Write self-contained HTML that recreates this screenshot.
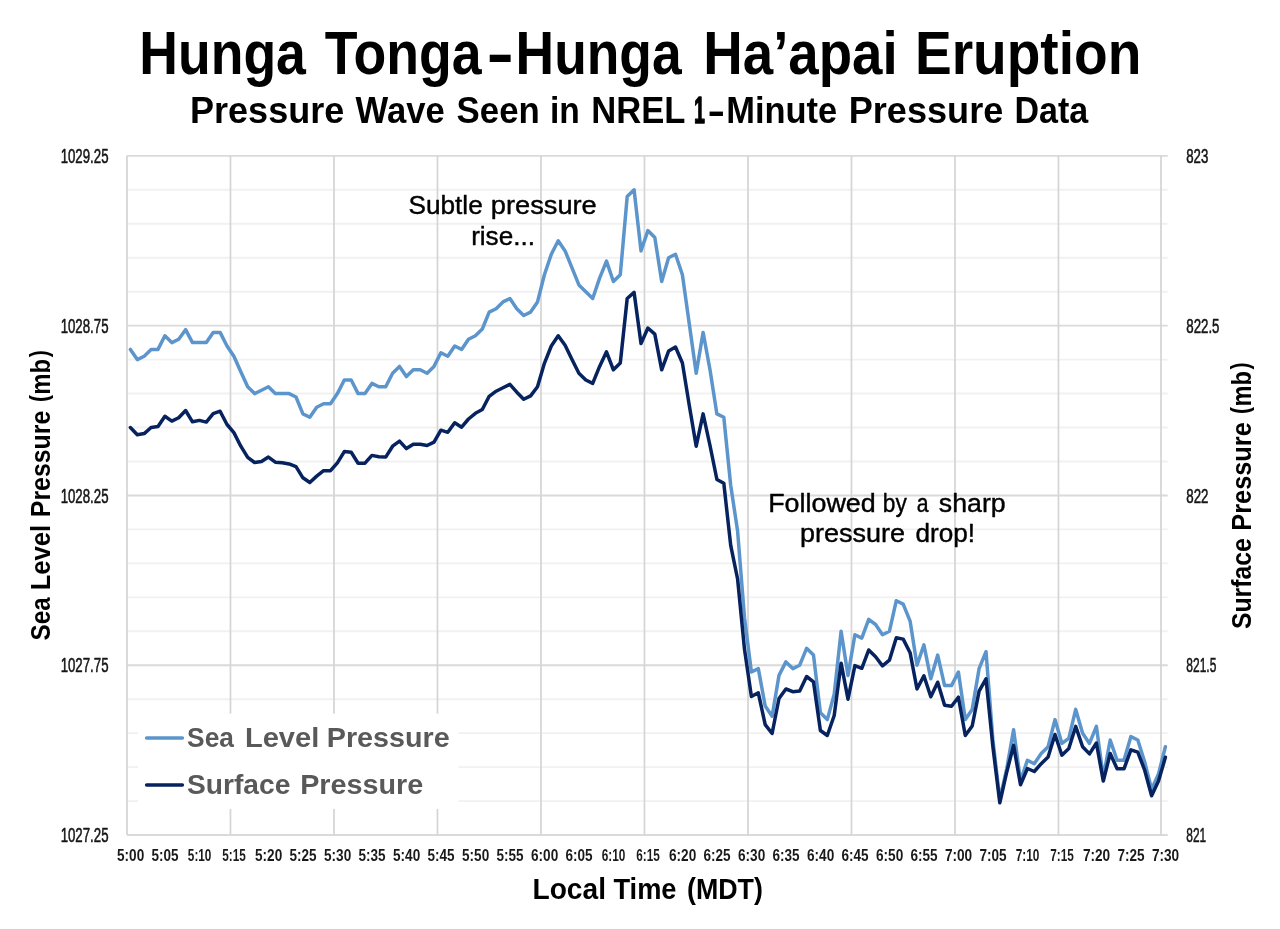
<!DOCTYPE html>
<html lang="en"><head><meta charset="utf-8"><title>Hunga Tonga-Hunga Ha’apai Eruption</title>
<style>html,body{margin:0;padding:0;background:#fff}svg{display:block}text{font-family:"Liberation Sans", sans-serif}</style>
</head><body>
<svg width="1280" height="929" viewBox="0 0 1280 929">
<rect width="1280" height="929" fill="#ffffff"/>
<g fill="none">
<line x1="126.97" x2="1167.70" y1="189.81" y2="189.81" stroke="#f1f1f1" stroke-width="1.9"/>
<line x1="126.97" x2="1167.70" y1="223.77" y2="223.77" stroke="#f1f1f1" stroke-width="1.9"/>
<line x1="126.97" x2="1167.70" y1="257.73" y2="257.73" stroke="#f1f1f1" stroke-width="1.9"/>
<line x1="126.97" x2="1167.70" y1="291.69" y2="291.69" stroke="#f1f1f1" stroke-width="1.9"/>
<line x1="126.97" x2="1167.70" y1="359.61" y2="359.61" stroke="#f1f1f1" stroke-width="1.9"/>
<line x1="126.97" x2="1167.70" y1="393.57" y2="393.57" stroke="#f1f1f1" stroke-width="1.9"/>
<line x1="126.97" x2="1167.70" y1="427.53" y2="427.53" stroke="#f1f1f1" stroke-width="1.9"/>
<line x1="126.97" x2="1167.70" y1="461.49" y2="461.49" stroke="#f1f1f1" stroke-width="1.9"/>
<line x1="126.97" x2="1167.70" y1="529.41" y2="529.41" stroke="#f1f1f1" stroke-width="1.9"/>
<line x1="126.97" x2="1167.70" y1="563.37" y2="563.37" stroke="#f1f1f1" stroke-width="1.9"/>
<line x1="126.97" x2="1167.70" y1="597.33" y2="597.33" stroke="#f1f1f1" stroke-width="1.9"/>
<line x1="126.97" x2="1167.70" y1="631.29" y2="631.29" stroke="#f1f1f1" stroke-width="1.9"/>
<line x1="126.97" x2="1167.70" y1="699.21" y2="699.21" stroke="#f1f1f1" stroke-width="1.9"/>
<line x1="126.97" x2="1167.70" y1="733.17" y2="733.17" stroke="#f1f1f1" stroke-width="1.9"/>
<line x1="126.97" x2="1167.70" y1="767.13" y2="767.13" stroke="#f1f1f1" stroke-width="1.9"/>
<line x1="126.97" x2="1167.70" y1="801.09" y2="801.09" stroke="#f1f1f1" stroke-width="1.9"/>
<line x1="126.97" x2="1167.70" y1="155.85" y2="155.85" stroke="#dadada" stroke-width="1.9"/>
<line x1="126.97" x2="1167.70" y1="325.65" y2="325.65" stroke="#dadada" stroke-width="1.9"/>
<line x1="126.97" x2="1167.70" y1="495.45" y2="495.45" stroke="#dadada" stroke-width="1.9"/>
<line x1="126.97" x2="1167.70" y1="665.25" y2="665.25" stroke="#dadada" stroke-width="1.9"/>
<line x1="126.97" x2="1167.70" y1="835.05" y2="835.05" stroke="#dadada" stroke-width="1.9"/>
<line x1="126.97" x2="126.97" y1="155.85" y2="835.05" stroke="#d5d5d5" stroke-width="1.75"/>
<line x1="230.47" x2="230.47" y1="155.85" y2="835.05" stroke="#d5d5d5" stroke-width="1.75"/>
<line x1="333.97" x2="333.97" y1="155.85" y2="835.05" stroke="#d5d5d5" stroke-width="1.75"/>
<line x1="437.47" x2="437.47" y1="155.85" y2="835.05" stroke="#d5d5d5" stroke-width="1.75"/>
<line x1="540.97" x2="540.97" y1="155.85" y2="835.05" stroke="#d5d5d5" stroke-width="1.75"/>
<line x1="644.47" x2="644.47" y1="155.85" y2="835.05" stroke="#d5d5d5" stroke-width="1.75"/>
<line x1="747.97" x2="747.97" y1="155.85" y2="835.05" stroke="#d5d5d5" stroke-width="1.75"/>
<line x1="851.47" x2="851.47" y1="155.85" y2="835.05" stroke="#d5d5d5" stroke-width="1.75"/>
<line x1="954.97" x2="954.97" y1="155.85" y2="835.05" stroke="#d5d5d5" stroke-width="1.75"/>
<line x1="1058.47" x2="1058.47" y1="155.85" y2="835.05" stroke="#d5d5d5" stroke-width="1.75"/>
<line x1="1161.00" x2="1161.00" y1="155.85" y2="835.05" stroke="#d5d5d5" stroke-width="1.75"/>
</g>
<rect x="138" y="713.6" width="320.5" height="95.3" fill="#ffffff"/>
<polyline points="130.4,349.4 137.3,359.6 144.2,356.2 151.1,349.4 158.0,349.4 164.9,335.8 171.8,342.6 178.7,339.2 185.6,329.7 192.5,342.6 199.4,342.6 206.3,342.6 213.2,332.4 220.1,332.4 227.0,346.0 233.9,356.2 240.8,371.8 247.7,386.8 254.6,393.6 261.5,390.2 268.4,386.8 275.3,393.6 282.2,393.6 289.1,393.6 296.0,397.0 302.9,413.9 309.8,417.3 316.7,407.2 323.6,403.8 330.5,403.8 337.4,393.6 344.3,380.0 351.2,380.0 358.1,393.6 365.0,393.6 371.9,383.4 378.8,386.8 385.7,386.8 392.6,373.2 399.5,366.4 406.4,376.6 413.3,369.8 420.2,369.8 427.1,373.2 434.0,366.4 440.9,352.8 447.8,356.2 454.7,346.0 461.6,349.4 468.5,339.2 475.4,335.8 482.3,329.0 489.2,312.1 496.1,308.7 503.0,301.9 509.9,298.5 516.8,308.7 523.7,315.5 530.6,312.1 537.5,301.9 544.4,274.7 551.3,254.3 558.2,240.8 565.1,250.9 572.0,267.9 578.9,284.9 585.8,291.7 592.7,298.5 599.6,278.1 606.5,261.1 613.4,281.5 620.3,274.7 627.2,196.6 634.1,189.8 641.0,250.9 647.9,230.6 654.8,237.4 661.7,281.5 668.6,257.7 675.5,254.3 682.4,274.7 689.3,324.0 696.2,373.2 703.1,332.4 710.0,369.8 716.9,413.9 723.8,417.3 730.7,485.3 737.6,531.1 744.5,617.7 751.4,672.0 758.3,668.6 765.2,706.0 772.1,716.2 779.0,675.4 785.9,661.9 792.8,668.6 799.7,665.2 806.6,648.3 813.5,655.1 820.4,712.8 827.3,719.6 834.2,694.1 841.1,631.3 848.0,675.4 854.9,634.7 861.8,638.1 868.7,619.4 875.6,624.5 882.5,634.7 889.4,631.3 896.3,600.7 903.2,604.1 910.1,621.1 917.0,665.2 923.9,644.9 930.8,678.8 937.7,655.1 944.6,685.6 951.5,685.6 958.4,672.0 965.3,719.6 972.2,709.4 979.1,668.6 986.0,651.7 992.9,740.0 999.8,799.4 1006.7,768.8 1013.6,729.8 1020.5,780.7 1027.4,760.3 1034.3,763.7 1041.2,753.5 1048.1,746.8 1055.0,719.6 1061.9,743.4 1068.8,738.3 1075.7,709.4 1082.6,733.2 1089.5,743.4 1096.4,726.4 1103.3,777.3 1110.2,740.0 1117.1,760.3 1124.0,760.3 1130.9,736.6 1137.8,740.0 1144.7,762.0 1151.6,789.2 1158.5,773.9 1165.4,746.8" fill="none" stroke="#5c95cc" stroke-width="3.5" stroke-linejoin="round" stroke-linecap="round"/>
<polyline points="130.4,427.5 137.3,434.7 144.2,433.6 151.1,427.5 158.0,426.5 164.9,416.3 171.8,421.1 178.7,417.7 185.6,410.5 192.5,421.8 199.4,420.4 206.3,422.1 213.2,413.6 220.1,411.2 227.0,424.5 233.9,432.6 240.8,446.2 247.7,457.4 254.6,462.5 261.5,461.5 268.4,457.1 275.3,462.2 282.2,462.8 289.1,463.9 296.0,466.6 302.9,477.8 309.8,482.5 316.7,476.1 323.6,470.7 330.5,470.7 337.4,462.8 344.3,451.6 351.2,452.3 358.1,463.2 365.0,463.2 371.9,455.4 378.8,456.7 385.7,457.1 392.6,446.2 399.5,441.1 406.4,448.6 413.3,444.2 420.2,444.2 427.1,445.5 434.0,442.1 440.9,430.2 447.8,432.3 454.7,422.8 461.6,427.2 468.5,419.0 475.4,413.3 482.3,409.5 489.2,396.3 496.1,391.2 503.0,387.8 509.9,384.4 516.8,392.2 523.7,399.3 530.6,395.9 537.5,386.8 544.4,363.3 551.3,346.0 558.2,335.8 565.1,345.3 572.0,359.6 578.9,373.2 585.8,380.0 592.7,383.4 599.6,366.4 606.5,351.8 613.4,369.8 620.3,363.0 627.2,298.5 634.1,292.4 641.0,343.6 647.9,328.0 654.8,334.1 661.7,369.8 668.6,351.1 675.5,347.0 682.4,363.0 689.3,405.5 696.2,446.2 703.1,413.9 710.0,445.5 716.9,479.5 723.8,483.2 730.7,545.4 737.6,579.0 744.5,649.3 751.4,696.5 758.3,692.8 765.2,724.7 772.1,733.5 779.0,698.5 785.9,689.0 792.8,691.7 799.7,691.1 806.6,676.5 813.5,681.9 820.4,730.5 827.3,735.5 834.2,715.5 841.1,663.2 848.0,699.2 854.9,665.6 861.8,668.3 868.7,650.0 875.6,656.8 882.5,665.9 889.4,660.2 896.3,637.7 903.2,639.1 910.1,652.7 917.0,689.0 923.9,675.8 930.8,696.8 937.7,682.2 944.6,705.3 951.5,706.3 958.4,697.2 965.3,735.5 972.2,726.0 979.1,691.1 986.0,678.8 992.9,746.8 999.8,802.8 1006.7,772.2 1013.6,745.4 1020.5,784.8 1027.4,768.5 1034.3,771.5 1041.2,763.7 1048.1,756.9 1055.0,734.5 1061.9,755.2 1068.8,748.5 1075.7,726.4 1082.6,746.8 1089.5,753.9 1096.4,743.0 1103.3,781.1 1110.2,753.5 1117.1,768.8 1124.0,768.8 1130.9,749.8 1137.8,752.2 1144.7,770.2 1151.6,795.7 1158.5,781.1 1165.4,757.3" fill="none" stroke="#06225f" stroke-width="3.5" stroke-linejoin="round" stroke-linecap="round"/>
<text font-size="60.8" fill="#000" font-weight="bold"><tspan x="139.26" y="73.70" textLength="166.68" lengthAdjust="spacingAndGlyphs">Hunga</tspan> <tspan x="324.71" y="73.70" textLength="156.89" lengthAdjust="spacingAndGlyphs">Tonga</tspan><tspan x="486.48" y="73.70" textLength="27.43" lengthAdjust="spacingAndGlyphs">-</tspan><tspan x="515.57" y="73.70" textLength="166.12" lengthAdjust="spacingAndGlyphs">Hunga</tspan> <tspan x="703.36" y="73.70" textLength="194.28" lengthAdjust="spacingAndGlyphs">Ha’apai</tspan> <tspan x="914.92" y="73.70" textLength="226.37" lengthAdjust="spacingAndGlyphs">Eruption</tspan></text>
<text font-size="36.2" fill="#000" font-weight="bold"><tspan x="189.99" y="122.80" textLength="154.37" lengthAdjust="spacingAndGlyphs">Pressure</tspan> <tspan x="355.49" y="122.80" textLength="89.18" lengthAdjust="spacingAndGlyphs">Wave</tspan> <tspan x="456.56" y="122.80" textLength="83.22" lengthAdjust="spacingAndGlyphs">Seen</tspan> <tspan x="549.95" y="122.80" textLength="29.84" lengthAdjust="spacingAndGlyphs">in</tspan> <tspan x="591.22" y="122.80" textLength="93.64" lengthAdjust="spacingAndGlyphs">NREL</tspan> <tspan x="694.05" y="122.80" stroke="#000" stroke-width="1.3" stroke-linejoin="round" textLength="10.91" lengthAdjust="spacingAndGlyphs">1</tspan><tspan x="707.43" y="122.80" textLength="17.59" lengthAdjust="spacingAndGlyphs">-</tspan><tspan x="726.21" y="122.80" textLength="110.97" lengthAdjust="spacingAndGlyphs">Minute</tspan> <tspan x="848.68" y="122.80" textLength="154.67" lengthAdjust="spacingAndGlyphs">Pressure</tspan> <tspan x="1014.44" y="122.80" textLength="73.73" lengthAdjust="spacingAndGlyphs">Data</tspan></text>
<text font-size="27.0" fill="#000" font-weight="bold" transform="translate(49.50,0) rotate(-90)"><tspan x="-640.45" y="0.00" textLength="43.09" lengthAdjust="spacingAndGlyphs">Sea</tspan> <tspan x="-590.32" y="0.00" textLength="65.52" lengthAdjust="spacingAndGlyphs">Level</tspan> <tspan x="-517.16" y="0.00" textLength="106.43" lengthAdjust="spacingAndGlyphs">Pressure</tspan> <tspan x="-401.95" y="-1.80" font-size="25.3" textLength="7.05" lengthAdjust="spacingAndGlyphs">(</tspan><tspan x="-394.84" y="0.00" textLength="35.82" lengthAdjust="spacingAndGlyphs">mb</tspan><tspan x="-357.28" y="-1.80" font-size="25.3" textLength="7.16" lengthAdjust="spacingAndGlyphs">)</tspan></text>
<text font-size="27.0" fill="#000" font-weight="bold" transform="translate(1251.00,0) rotate(-90)"><tspan x="-629.04" y="0.00" textLength="90.89" lengthAdjust="spacingAndGlyphs">Surface</tspan> <tspan x="-530.80" y="0.00" textLength="108.68" lengthAdjust="spacingAndGlyphs">Pressure</tspan> <tspan x="-414.05" y="-1.80" font-size="25.3" textLength="7.05" lengthAdjust="spacingAndGlyphs">(</tspan><tspan x="-406.57" y="0.00" textLength="35.45" lengthAdjust="spacingAndGlyphs">mb</tspan><tspan x="-369.38" y="-1.80" font-size="25.3" textLength="7.04" lengthAdjust="spacingAndGlyphs">)</tspan></text>
<text font-size="28.6" fill="#000" font-weight="bold"><tspan x="532.52" y="898.90" textLength="73.46" lengthAdjust="spacingAndGlyphs">Local</tspan> <tspan x="613.43" y="898.90" textLength="63.11" lengthAdjust="spacingAndGlyphs">Time</tspan> <tspan x="686.97" y="898.90" textLength="75.96" lengthAdjust="spacingAndGlyphs">(MDT)</tspan></text>
<text font-size="25.2" fill="#000" stroke="#000" stroke-width="0.4" stroke-linejoin="round"><tspan x="408.49" y="213.75" textLength="74.22" lengthAdjust="spacingAndGlyphs">Subtle</tspan> <tspan x="490.82" y="213.75" textLength="105.92" lengthAdjust="spacingAndGlyphs">pressure</tspan></text>
<text font-size="25.2" fill="#000" stroke="#000" stroke-width="0.4" stroke-linejoin="round"><tspan x="471.15" y="245.40" textLength="63.77" lengthAdjust="spacingAndGlyphs">rise...</tspan></text>
<text font-size="25.2" fill="#000" stroke="#000" stroke-width="0.4" stroke-linejoin="round"><tspan x="768.23" y="511.50" textLength="107.47" lengthAdjust="spacingAndGlyphs">Followed</tspan> <tspan x="882.80" y="511.50" textLength="23.99" lengthAdjust="spacingAndGlyphs">by</tspan> <tspan x="916.86" y="511.50" textLength="11.78" lengthAdjust="spacingAndGlyphs">a</tspan> <tspan x="938.82" y="511.50" textLength="66.83" lengthAdjust="spacingAndGlyphs">sharp</tspan></text>
<text font-size="25.2" fill="#000" stroke="#000" stroke-width="0.4" stroke-linejoin="round"><tspan x="800.04" y="541.70" textLength="105.00" lengthAdjust="spacingAndGlyphs">pressure</tspan> <tspan x="915.58" y="541.70" textLength="59.55" lengthAdjust="spacingAndGlyphs">drop!</tspan></text>
<text font-size="27.2" fill="#595959" font-weight="bold"><tspan x="187.11" y="747.20" textLength="46.81" lengthAdjust="spacingAndGlyphs">Sea</tspan> <tspan x="244.95" y="747.20" textLength="74.29" lengthAdjust="spacingAndGlyphs">Level</tspan> <tspan x="326.78" y="747.20" textLength="122.92" lengthAdjust="spacingAndGlyphs">Pressure</tspan></text>
<text font-size="27.2" fill="#595959" font-weight="bold"><tspan x="187.06" y="794.20" textLength="103.31" lengthAdjust="spacingAndGlyphs">Surface</tspan> <tspan x="300.18" y="794.20" textLength="123.02" lengthAdjust="spacingAndGlyphs">Pressure</tspan></text>
<text font-size="19.6" fill="#151515" stroke="#151515" stroke-width="0.55" stroke-linejoin="round"><tspan x="60.65" y="162.95" textLength="47.86" lengthAdjust="spacingAndGlyphs">1029.25</tspan></text>
<text font-size="19.6" fill="#151515" stroke="#151515" stroke-width="0.55" stroke-linejoin="round"><tspan x="60.65" y="332.75" textLength="47.86" lengthAdjust="spacingAndGlyphs">1028.75</tspan></text>
<text font-size="19.6" fill="#151515" stroke="#151515" stroke-width="0.55" stroke-linejoin="round"><tspan x="60.65" y="502.55" textLength="47.86" lengthAdjust="spacingAndGlyphs">1028.25</tspan></text>
<text font-size="19.6" fill="#151515" stroke="#151515" stroke-width="0.55" stroke-linejoin="round"><tspan x="60.65" y="672.35" textLength="47.86" lengthAdjust="spacingAndGlyphs">1027.75</tspan></text>
<text font-size="19.6" fill="#151515" stroke="#151515" stroke-width="0.55" stroke-linejoin="round"><tspan x="60.65" y="842.15" textLength="47.86" lengthAdjust="spacingAndGlyphs">1027.25</tspan></text>
<text font-size="19.6" fill="#151515" stroke="#151515" stroke-width="0.55" stroke-linejoin="round"><tspan x="1186.27" y="162.95" textLength="22.07" lengthAdjust="spacingAndGlyphs">823</tspan></text>
<text font-size="19.6" fill="#151515" stroke="#151515" stroke-width="0.55" stroke-linejoin="round"><tspan x="1186.26" y="332.75" textLength="33.26" lengthAdjust="spacingAndGlyphs">822.5</tspan></text>
<text font-size="19.6" fill="#151515" stroke="#151515" stroke-width="0.55" stroke-linejoin="round"><tspan x="1186.27" y="502.55" textLength="22.15" lengthAdjust="spacingAndGlyphs">822</tspan></text>
<text font-size="19.6" fill="#151515" stroke="#151515" stroke-width="0.55" stroke-linejoin="round"><tspan x="1186.30" y="672.35" textLength="30.04" lengthAdjust="spacingAndGlyphs">821.5</tspan></text>
<text font-size="19.6" fill="#151515" stroke="#151515" stroke-width="0.55" stroke-linejoin="round"><tspan x="1186.31" y="842.15" textLength="19.85" lengthAdjust="spacingAndGlyphs">821</tspan></text>
<text font-size="15.6" fill="#1a1a1a" font-weight="bold"><tspan x="117.03" y="860.50" textLength="27.20" lengthAdjust="spacingAndGlyphs">5:00</tspan></text>
<text font-size="15.6" fill="#1a1a1a" font-weight="bold"><tspan x="151.53" y="860.50" textLength="27.03" lengthAdjust="spacingAndGlyphs">5:05</tspan></text>
<text font-size="15.6" fill="#1a1a1a" font-weight="bold"><tspan x="187.84" y="860.50" textLength="23.57" lengthAdjust="spacingAndGlyphs">5:10</tspan></text>
<text font-size="15.6" fill="#1a1a1a" font-weight="bold"><tspan x="222.34" y="860.50" textLength="23.42" lengthAdjust="spacingAndGlyphs">5:15</tspan></text>
<text font-size="15.6" fill="#1a1a1a" font-weight="bold"><tspan x="255.03" y="860.50" textLength="27.20" lengthAdjust="spacingAndGlyphs">5:20</tspan></text>
<text font-size="15.6" fill="#1a1a1a" font-weight="bold"><tspan x="289.53" y="860.50" textLength="27.03" lengthAdjust="spacingAndGlyphs">5:25</tspan></text>
<text font-size="15.6" fill="#1a1a1a" font-weight="bold"><tspan x="324.03" y="860.50" textLength="27.20" lengthAdjust="spacingAndGlyphs">5:30</tspan></text>
<text font-size="15.6" fill="#1a1a1a" font-weight="bold"><tspan x="358.53" y="860.50" textLength="27.03" lengthAdjust="spacingAndGlyphs">5:35</tspan></text>
<text font-size="15.6" fill="#1a1a1a" font-weight="bold"><tspan x="393.03" y="860.50" textLength="27.20" lengthAdjust="spacingAndGlyphs">5:40</tspan></text>
<text font-size="15.6" fill="#1a1a1a" font-weight="bold"><tspan x="427.53" y="860.50" textLength="27.03" lengthAdjust="spacingAndGlyphs">5:45</tspan></text>
<text font-size="15.6" fill="#1a1a1a" font-weight="bold"><tspan x="462.03" y="860.50" textLength="27.20" lengthAdjust="spacingAndGlyphs">5:50</tspan></text>
<text font-size="15.6" fill="#1a1a1a" font-weight="bold"><tspan x="496.53" y="860.50" textLength="27.03" lengthAdjust="spacingAndGlyphs">5:55</tspan></text>
<text font-size="15.6" fill="#1a1a1a" font-weight="bold"><tspan x="530.98" y="860.50" textLength="27.26" lengthAdjust="spacingAndGlyphs">6:00</tspan></text>
<text font-size="15.6" fill="#1a1a1a" font-weight="bold"><tspan x="565.48" y="860.50" textLength="27.08" lengthAdjust="spacingAndGlyphs">6:05</tspan></text>
<text font-size="15.6" fill="#1a1a1a" font-weight="bold"><tspan x="601.79" y="860.50" textLength="23.62" lengthAdjust="spacingAndGlyphs">6:10</tspan></text>
<text font-size="15.6" fill="#1a1a1a" font-weight="bold"><tspan x="636.29" y="860.50" textLength="23.46" lengthAdjust="spacingAndGlyphs">6:15</tspan></text>
<text font-size="15.6" fill="#1a1a1a" font-weight="bold"><tspan x="668.98" y="860.50" textLength="27.26" lengthAdjust="spacingAndGlyphs">6:20</tspan></text>
<text font-size="15.6" fill="#1a1a1a" font-weight="bold"><tspan x="703.48" y="860.50" textLength="27.08" lengthAdjust="spacingAndGlyphs">6:25</tspan></text>
<text font-size="15.6" fill="#1a1a1a" font-weight="bold"><tspan x="737.98" y="860.50" textLength="27.26" lengthAdjust="spacingAndGlyphs">6:30</tspan></text>
<text font-size="15.6" fill="#1a1a1a" font-weight="bold"><tspan x="772.48" y="860.50" textLength="27.08" lengthAdjust="spacingAndGlyphs">6:35</tspan></text>
<text font-size="15.6" fill="#1a1a1a" font-weight="bold"><tspan x="806.98" y="860.50" textLength="27.26" lengthAdjust="spacingAndGlyphs">6:40</tspan></text>
<text font-size="15.6" fill="#1a1a1a" font-weight="bold"><tspan x="841.48" y="860.50" textLength="27.08" lengthAdjust="spacingAndGlyphs">6:45</tspan></text>
<text font-size="15.6" fill="#1a1a1a" font-weight="bold"><tspan x="875.98" y="860.50" textLength="27.26" lengthAdjust="spacingAndGlyphs">6:50</tspan></text>
<text font-size="15.6" fill="#1a1a1a" font-weight="bold"><tspan x="910.48" y="860.50" textLength="27.08" lengthAdjust="spacingAndGlyphs">6:55</tspan></text>
<text font-size="15.6" fill="#1a1a1a" font-weight="bold"><tspan x="944.89" y="860.50" textLength="27.35" lengthAdjust="spacingAndGlyphs">7:00</tspan></text>
<text font-size="15.6" fill="#1a1a1a" font-weight="bold"><tspan x="979.39" y="860.50" textLength="27.17" lengthAdjust="spacingAndGlyphs">7:05</tspan></text>
<text font-size="15.6" fill="#1a1a1a" font-weight="bold"><tspan x="1015.72" y="860.50" textLength="23.69" lengthAdjust="spacingAndGlyphs">7:10</tspan></text>
<text font-size="15.6" fill="#1a1a1a" font-weight="bold"><tspan x="1050.22" y="860.50" textLength="23.54" lengthAdjust="spacingAndGlyphs">7:15</tspan></text>
<text font-size="15.6" fill="#1a1a1a" font-weight="bold"><tspan x="1082.89" y="860.50" textLength="27.35" lengthAdjust="spacingAndGlyphs">7:20</tspan></text>
<text font-size="15.6" fill="#1a1a1a" font-weight="bold"><tspan x="1117.39" y="860.50" textLength="27.17" lengthAdjust="spacingAndGlyphs">7:25</tspan></text>
<text font-size="15.6" fill="#1a1a1a" font-weight="bold"><tspan x="1151.89" y="860.50" textLength="27.35" lengthAdjust="spacingAndGlyphs">7:30</tspan></text>
<line x1="146.6" x2="182.4" y1="738.0" y2="738.0" stroke="#5c95cc" stroke-width="3.5" stroke-linecap="round"/>
<line x1="146.6" x2="182.4" y1="784.9" y2="784.9" stroke="#06225f" stroke-width="3.5" stroke-linecap="round"/>
</svg>
</body></html>
